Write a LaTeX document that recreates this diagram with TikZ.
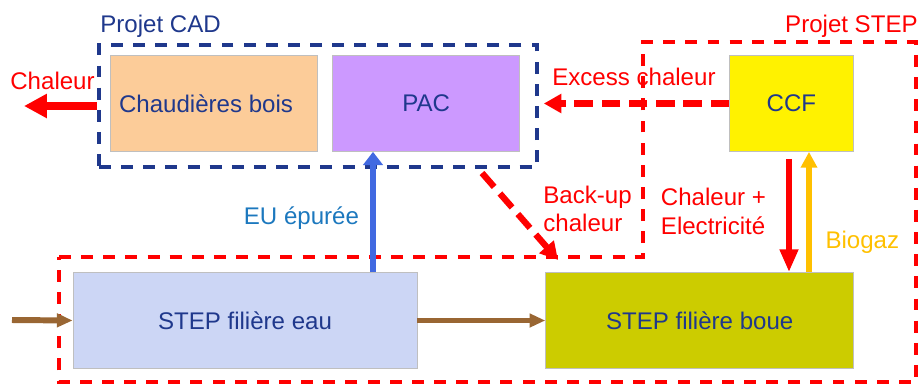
\documentclass[tikz,border=0pt]{standalone}
\usepackage{fontspec}
\setmainfont{Liberation Sans}
\usepackage{tikz}
\usetikzlibrary{positioning}
\usetikzlibrary{arrows.meta}
\usetikzlibrary{fit,calc}
\definecolor{cadblue}{RGB}{31,56,140}
\definecolor{wood}{RGB}{252,204,153}
\definecolor{lilac}{RGB}{204,153,255}
\definecolor{waterblue}{RGB}{204,214,245}
\definecolor{sludge}{RGB}{204,204,0}
\definecolor{mud}{RGB}{153,102,51}
\definecolor{eublue}{RGB}{65,105,225}
\definecolor{eutext}{RGB}{28,120,190}
\definecolor{biogas}{RGB}{255,192,0}
\tikzset{unit node/.style={draw=black!25,line width=0.4pt,minimum height=1.92cm,inner sep=0pt,text=cadblue},
	project frame/.style={line width=2.1pt,dash pattern=on 6.8pt off 5.8pt},
	heat flow/.style={red,line width=4.4pt,-{Triangle[length=13pt,width=13pt]}},
	dashed flow/.style={red,line width=3.6pt,dash pattern=on 10.5pt off 5pt,-{Triangle[length=10pt,width=10.5pt]}},
	thin flow/.style={line width=3.4pt,-{Triangle[length=10pt,width=10pt]}},
	label/.style={inner sep=0pt},}

\begin{document}
\begin{tikzpicture}[font=\fontsize{13.7}{16}\selectfont]
	\useasboundingbox (0,0) rectangle (18.44,-7.7);

	% units
	\node[unit node, fill=wood, minimum width=4.14cm] (chaud) at (4.27,-2.07) {Chaudières bois\hspace*{0.3cm}};
	\node[unit node, fill=lilac, minimum width=3.74cm] (pac) [right = 0.3cm of chaud] {PAC};
	\node[unit node, fill=yellow, minimum width=2.48cm] (ccf) [right = 4.18cm of pac] {CCF};
	\node[unit node, fill=waterblue, minimum width=6.88cm] (eau) at (4.9,-6.41) {STEP filière eau};
	\node[unit node, fill=sludge, minimum width=6.16cm] (boue) [right = 2.56cm of eau] {STEP filière boue};

	% project frames
	\coordinate (cadnw) at (1.98,-0.9);
	\coordinate (cadse) at (10.74,-3.34);
	\node[project frame, draw=cadblue, fit=(cadnw)(cadse), inner sep=0pt] (cad) {};
	\node[label, anchor=base west, text=cadblue] (cadtitle) at (2.0,-0.64) {Projet CAD};
	\draw[project frame, red] (1.18,-5.14) -- (12.86,-5.14) -- (12.86,-0.84) -- (18.32,-0.84)
		-- (18.32,-7.64) -- (1.18,-7.64) -- cycle;
	\node[label, anchor=base east, text=red] (steptitle) at (18.36,-0.64) {Projet STEP};

	% flows
	\coordinate (heatout) at (0.48,-2.12);
	\coordinate (eux) at (7.46,-4.5);
	\coordinate (elx) at (15.78,-4.5);
	\coordinate (bgx) at (16.18,-4.5);
	\coordinate (bkfrom) at (9.64,-3.46);
	\coordinate (bkto) at (11.16,-5.2);
	\coordinate (inflow) at (0.24,-6.4);

	\draw[heat flow] (cad.west) -- (heatout);
	\node[label, anchor=base west, text=red] (heatlabel) at (0.2,-1.78) {Chaleur};

	\draw[dashed flow, shorten >=0.1cm] (ccf.west) -- (ccf.west -| cad.east)
		node[label, midway, above=0.3cm, text=red] {Excess chaleur};
	\draw[dashed flow] (bkfrom) -- (bkto);
	\node[label, anchor=north west, align=left, text=red] (backup) at (10.86,-3.72) {Back-up\\chaleur};

	\draw[thin flow, eublue, -{Triangle[length=7.5pt,width=11pt]}] (eau.north -| eux) -- (pac.south -| eux)
		node[label, pos=.4, anchor=base east, xshift=-0.22cm, text=eutext] {EU épurée};
	\draw[thin flow, red, -{Triangle[length=13pt,width=10pt]}, shorten <=0.14cm]
		(ccf.south -| elx) -- (boue.north -| elx)
		node[label, pos=.28, anchor=north east, xshift=-0.4cm, align=left] {Chaleur +\\Electricité};
	\draw[thin flow, biogas, line width=2.9pt, -{Triangle[length=9pt,width=9pt]}] (boue.north -| bgx) -- (ccf.south -| bgx)
		node[label, pos=.2, anchor=base west, xshift=0.28cm] {Biogaz};

	\draw[thin flow, mud, -{Triangle[length=9pt,width=7.5pt]}] (inflow) -- (eau.west);
	\draw[thin flow, mud, -{Triangle[length=9pt,width=7.5pt]}] (eau.east) -- (eau.east -| boue.west);
\end{tikzpicture}
\end{document}
